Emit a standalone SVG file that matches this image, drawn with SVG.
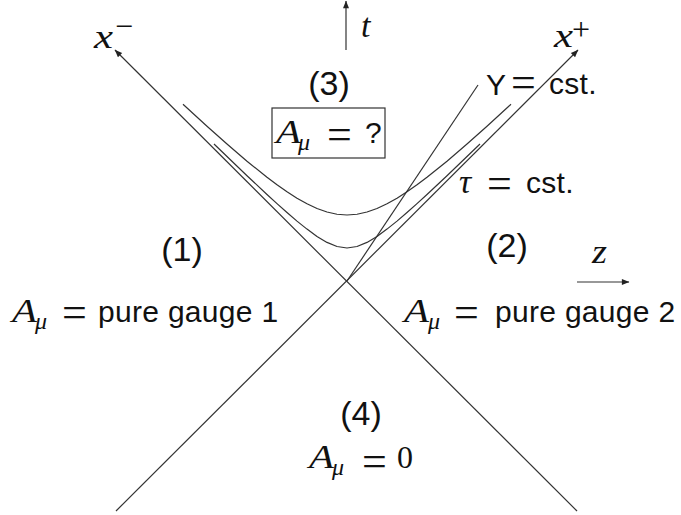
<svg xmlns="http://www.w3.org/2000/svg" width="681" height="515" viewBox="0 0 681 515">
<defs>
<marker id="ah" viewBox="0 0 10 8" refX="9.5" refY="4" markerWidth="9" markerHeight="6" markerUnits="userSpaceOnUse" orient="auto">
<path d="M0,0 L10,4 L0,8 Z" fill="#222"/>
</marker>
<style>
.ln{stroke:#333;stroke-width:1.2;fill:none;stroke-linejoin:round}
.ax{stroke:#333;stroke-width:1.2;fill:none;marker-end:url(#ah)}
.sf{font-family:"Liberation Sans","DejaVu Sans",sans-serif;font-size:30px;fill:#111;letter-spacing:0.3px}
.pn{font-family:"Liberation Sans","DejaVu Sans",sans-serif;font-size:34px;fill:#111}
.mi{font-family:"Liberation Serif","DejaVu Serif",serif;font-style:italic;font-size:34px;fill:#111}
.sub{font-family:"Liberation Serif","DejaVu Serif",serif;font-style:italic;font-size:24px;fill:#111}
.eq{font-family:"Liberation Serif","DejaVu Serif",serif;font-size:44px;fill:#111}
.rm{font-family:"Liberation Serif","DejaVu Serif",serif;font-size:32px;fill:#111}
</style>
</defs>
<rect width="681" height="515" fill="#fff"/>
<g id="connectors">
<line class="ax" x1="577" y1="511" x2="115" y2="50"/>
<line class="ax" x1="116" y1="511" x2="578" y2="50"/>
<line class="ax" x1="346" y1="50" x2="346" y2="1"/>
<line class="ax" x1="577" y1="282" x2="629" y2="282"/>
<line class="ln" x1="478" y1="85" x2="347" y2="281"/>
<polyline class="ln" points="183,104.2 207,126.2 227,144.05 247,161.2 267,177.3 277,184.8 287,191.8 297,198.2 307,203.8 317,208.5 327,212 337,214.25 347,215 357,214.25 367,212 377,208.5 387,203.8 397,198.2 407,191.8 417,184.8 427,177.3 447,161.2 467,144.05 487,126.2 511,104.2"/>
<polyline class="ln" points="214,144 227,156.5 247,175.7 267,194.5 277,203.6 287,212.5 297,221.1 307,229.1 317,236.4 327,242.4 337,246.5 347,248 357,246.5 367,242.4 377,236.4 387,229.1 397,221.1 407,212.5 417,203.6 427,194.5 447,175.7 467,156.5 480,144"/>
</g>
<g id="axis-labels">
<text class="mi" x="94" y="48" font-size="32" textLength="19" lengthAdjust="spacingAndGlyphs">x</text><text class="rm" x="115" y="37" font-size="30">−</text>
<text class="mi" x="554" y="47" font-size="32" textLength="19" lengthAdjust="spacingAndGlyphs">x</text><text class="rm" x="572" y="40" font-size="32">+</text>
<text class="mi" x="361" y="37" font-size="32">t</text>
<text class="mi" x="592" y="263" font-size="28" textLength="15" lengthAdjust="spacingAndGlyphs">z</text>
</g>
<g id="region3">
<text class="pn" x="329" y="95" text-anchor="middle">(3)</text>
<rect x="272" y="108" width="113" height="50" fill="none" stroke="#333" stroke-width="1.2"/>
<text class="mi" x="276" y="143" textLength="25" lengthAdjust="spacingAndGlyphs">A</text><text class="sub" x="298" y="150">μ</text>
<text class="eq" x="327" y="149">=</text>
<text class="sf" x="365" y="143">?</text>
</g>
<g id="region1">
<text class="pn" x="182" y="261" text-anchor="middle">(1)</text>
<text class="mi" x="12" y="322" textLength="25" lengthAdjust="spacingAndGlyphs">A</text><text class="sub" x="35" y="329">μ</text>
<text class="eq" x="62" y="326.5">=</text>
<text class="sf" x="98" y="322">pure gauge 1</text>
</g>
<g id="region2">
<text class="pn" x="507" y="257" text-anchor="middle">(2)</text>
<text class="mi" x="404" y="322" textLength="25" lengthAdjust="spacingAndGlyphs">A</text><text class="sub" x="428" y="329">μ</text>
<text class="eq" x="454" y="326.5">=</text>
<text class="sf" x="495" y="322">pure gauge 2</text>
</g>
<g id="region4">
<text class="pn" x="361" y="425" text-anchor="middle">(4)</text>
<text class="mi" x="309" y="468" textLength="25" lengthAdjust="spacingAndGlyphs">A</text><text class="sub" x="332" y="475">μ</text>
<text class="eq" x="362" y="475.5">=</text>
<text class="rm" x="397" y="468">0</text>
</g>
<g id="Y-label">
<text class="sf" x="486" y="95" font-size="26">Y</text>
<text class="eq" x="511" y="97">=</text>
<text class="sf" x="549" y="94">cst.</text>
</g>
<g id="tau-label">
<text class="mi" x="459" y="193" font-size="30">τ</text>
<text class="eq" x="487" y="198">=</text>
<text class="sf" x="526" y="193">cst.</text>
</g>
</svg>
